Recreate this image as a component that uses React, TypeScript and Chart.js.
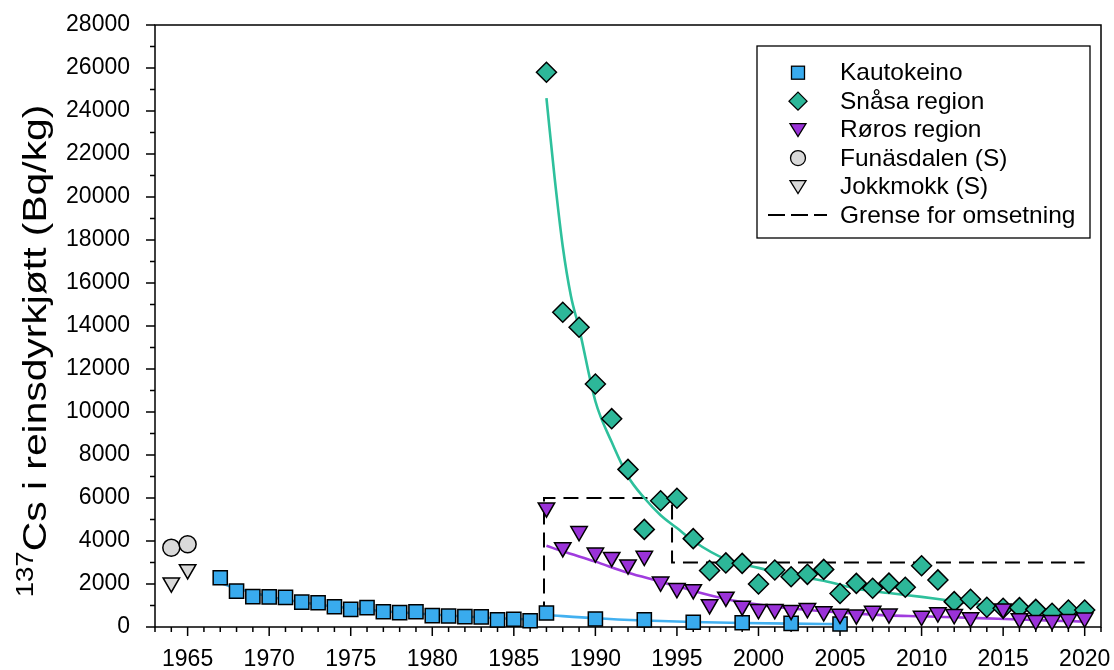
import React, { useEffect, useRef } from 'react';
import { Chart, registerables } from 'chart.js';

Chart.register(...registerables);

// ---------- data ----------
const kautoYears = [1967, 1968, 1969, 1970, 1971, 1972, 1973, 1974, 1975, 1976, 1977, 1978, 1979, 1980, 1981, 1982, 1983, 1984, 1985, 1986, 1987, 1990, 1993, 1996, 1999, 2002, 2005];
const kautoValues = [2290, 1670, 1410, 1400, 1380, 1160, 1130, 940, 820, 900, 710, 670, 710, 530, 510, 480, 470, 330, 360, 290, 650, 370, 330, 220, 200, 170, 140];

const snasaYears = [1987, 1988, 1989, 1990, 1991, 1992, 1993, 1994, 1995, 1996, 1997, 1998, 1999, 2000, 2001, 2002, 2003, 2004, 2005, 2006, 2007, 2008, 2009, 2010, 2011, 2012, 2013, 2014, 2015, 2016, 2017, 2018, 2019, 2020];
const snasaValues = [25800, 14640, 13940, 11300, 9690, 7330, 4540, 5870, 5990, 4110, 2630, 2980, 2960, 2000, 2650, 2340, 2450, 2680, 1560, 2030, 1800, 2040, 1850, 2850, 2190, 1180, 1290, 920, 870, 900, 820, 640, 790, 790];

const rorosYears = [1987, 1988, 1989, 1990, 1991, 1992, 1993, 1994, 1995, 1996, 1997, 1998, 1999, 2000, 2001, 2002, 2003, 2004, 2005, 2006, 2007, 2008, 2010, 2011, 2012, 2013, 2015, 2016, 2017, 2018, 2019, 2020];
const rorosValues = [5550, 3700, 4450, 3450, 3250, 2900, 3300, 2100, 1800, 1750, 1050, 1400, 980, 820, 820, 780, 870, 720, 600, 570, 740, 620, 510, 670, 590, 440, 850, 400, 310, 310, 360, 430];

const funasYears = [1964, 1965];
const funasValues = [3690, 3850];

const jokkYears = [1964, 1965];
const jokkValues = [2060, 2680];

// fitted curves
const kautoFitPreYears = [1967, 1968, 1970, 1972, 1974, 1976, 1978, 1980, 1982, 1984, 1986];
const kautoFitPreValues = [2050, 1800, 1420, 1150, 950, 800, 680, 580, 490, 410, 350];
const kautoFitPostYears = [1987, 1990, 1993, 1996, 1999, 2002, 2005];
const kautoFitPostValues = [560, 405, 300, 230, 185, 155, 135];

const snasaFitYears = [1987, 1987.5, 1988, 1988.5, 1989, 1990, 1991, 1992, 1993, 1994, 1995, 1996, 1998, 2000, 2002, 2004, 2006, 2008, 2010, 2012, 2014, 2016, 2018, 2020];
const snasaFitValues = [24600, 20900, 17700, 15400, 13900, 10500, 8600, 7000, 6000, 5200, 4600, 4000, 3150, 2750, 2400, 2150, 1780, 1580, 1400, 1200, 1020, 900, 790, 710];

const rorosFitYears = [1987, 1988, 1990, 1992, 1994, 1996, 1998, 2000, 2002, 2004, 2006, 2008, 2010, 2012, 2014, 2016, 2018, 2020];
const rorosFitValues = [3780, 3520, 3040, 2520, 2110, 1680, 1300, 1040, 860, 730, 620, 540, 500, 450, 400, 350, 295, 250];

const limitYears = [1986.7, 1986.85, 1986.85, 1994.7, 1994.7, 2020];
const limitValues = [600, 600, 6000, 6000, 3000, 3000];

const xTickLabels = [1965, 1970, 1975, 1980, 1985, 1990, 1995, 2000, 2005, 2010, 2015, 2020];
const legendLabels = ['Kautokeino', 'Snåsa region', 'Røros region', 'Funäsdalen (S)', 'Jokkmokk (S)', 'Grense for omsetning'];
const yTitleSup = '137';
const yTitleMain = 'Cs i reinsdyrkjøtt (Bq/kg)';

// ---------- style ----------
const FONT = "'Liberation Sans', Arial, sans-serif";
const C_BLUE = '#39abee';
const C_TEAL = '#2db799';
const C_PURPLE = '#9a32d8';
const C_GRAY = '#d9d9d9';
const L_BLUE = '#42b0f0';
const L_TEAL = '#2ec09c';
const L_PURPLE = '#a03cde';

const pts = (xs: number[], ys: number[]) => xs.map((x, i) => ({ x, y: ys[i] }));

const overlayPlugin = {
  id: 'overlay',
  beforeDatasetsDraw(chart: any) {
    const { ctx, chartArea: a, scales } = chart;
    const xs = scales.x;
    const ys = scales.y;
    ctx.save();
    ctx.strokeStyle = '#000';
    ctx.lineWidth = 1.5;
    ctx.strokeRect(a.left, a.top, a.right - a.left, a.bottom - a.top);
    ctx.beginPath();
    for (let yr = 1963; yr <= 2021; yr++) {
      const px = xs.getPixelForValue(yr);
      const len = yr % 5 === 0 ? 9 : 5;
      ctx.moveTo(px, a.bottom);
      ctx.lineTo(px, a.bottom + len);
    }
    for (let v = 0; v <= 28000; v += 1000) {
      const py = ys.getPixelForValue(v);
      const len = v % 2000 === 0 ? 9 : 5;
      ctx.moveTo(a.left, py);
      ctx.lineTo(a.left - len, py);
    }
    ctx.stroke();
    ctx.restore();
  },
  afterDraw(chart: any) {
    const { ctx } = chart;
    ctx.save();
    // ---- legend ----
    const bx = 757, by = 46, bw = 333, bh = 192;
    ctx.fillStyle = '#fff';
    ctx.fillRect(bx, by, bw, bh);
    ctx.strokeStyle = '#000';
    ctx.lineWidth = 1.3;
    ctx.strokeRect(bx, by, bw, bh);
    const mx = 798;
    const tx = 840;
    const y0 = 72.7;
    const step = 28.46;
    const rows = legendLabels.map((_, i) => y0 + i * step);
    ctx.fillStyle = C_BLUE;
    ctx.fillRect(mx - 6.5, rows[0] - 6.5, 13, 13);
    ctx.strokeRect(mx - 6.5, rows[0] - 6.5, 13, 13);
    ctx.beginPath();
    ctx.moveTo(mx - 9, rows[1]);
    ctx.lineTo(mx, rows[1] - 9);
    ctx.lineTo(mx + 9, rows[1]);
    ctx.lineTo(mx, rows[1] + 9);
    ctx.closePath();
    ctx.fillStyle = C_TEAL;
    ctx.fill();
    ctx.stroke();
    const tri = (cy: number, fill: string) => {
      ctx.beginPath();
      ctx.moveTo(mx - 8, cy - 6);
      ctx.lineTo(mx + 8, cy - 6);
      ctx.lineTo(mx, cy + 7);
      ctx.closePath();
      ctx.fillStyle = fill;
      ctx.fill();
      ctx.stroke();
    };
    tri(rows[2], C_PURPLE);
    ctx.beginPath();
    ctx.arc(mx, rows[3], 7.5, 0, Math.PI * 2);
    ctx.fillStyle = C_GRAY;
    ctx.fill();
    ctx.stroke();
    tri(rows[4], C_GRAY);
    ctx.beginPath();
    ctx.setLineDash([17, 6]);
    ctx.lineWidth = 2;
    ctx.moveTo(768, rows[5]);
    ctx.lineTo(827, rows[5]);
    ctx.stroke();
    ctx.setLineDash([]);
    ctx.fillStyle = '#000';
    ctx.font = `24px ${FONT}`;
    ctx.textBaseline = 'middle';
    ctx.textAlign = 'left';
    legendLabels.forEach((t, i) => {
      ctx.save();
      ctx.translate(tx, rows[i] + 1);
      ctx.scale(1.02, 1);
      ctx.fillText(t, 0, 0);
      ctx.restore();
    });

    // ---- y axis title ----
    const stretch = 1.2;
    ctx.translate(46, 351);
    ctx.rotate(-Math.PI / 2);
    ctx.scale(stretch, 1);
    ctx.textBaseline = 'alphabetic';
    ctx.font = `23px ${FONT}`;
    const wSup = ctx.measureText(yTitleSup).width;
    ctx.font = `34px ${FONT}`;
    const wMain = ctx.measureText(yTitleMain).width;
    const x0 = -(wSup + wMain) / 2;
    ctx.font = `23px ${FONT}`;
    ctx.fillText(yTitleSup, x0, -13);
    ctx.font = `34px ${FONT}`;
    ctx.fillText(yTitleMain, x0 + wSup, 0);
    ctx.restore();
  },
};

export default function App() {
  const ref = useRef<HTMLCanvasElement | null>(null);
  useEffect(() => {
    if (!ref.current) return;
    const markerBase = { showLine: false, borderColor: '#000', pointBorderWidth: 1.5, clip: false as any };
    const fitBase = { showLine: true, pointRadius: 0, borderWidth: 2.6, cubicInterpolationMode: 'monotone' as const, clip: false as any };
    const chart = new Chart(ref.current, {
      type: 'scatter',
      data: {
        datasets: [
          { ...markerBase, label: 'Røros region', data: pts(rorosYears, rorosValues), pointStyle: 'triangle', rotation: 180, pointRadius: 9.5, backgroundColor: C_PURPLE, order: 1 },
          { ...markerBase, label: 'Snåsa region', data: pts(snasaYears, snasaValues), pointStyle: 'rectRot', pointRadius: 10, backgroundColor: C_TEAL, order: 2 },
          { ...markerBase, label: 'Kautokeino', data: pts(kautoYears, kautoValues), pointStyle: 'rect', pointRadius: 10, backgroundColor: C_BLUE, order: 3 },
          { ...markerBase, label: 'Funäsdalen (S)', data: pts(funasYears, funasValues), pointStyle: 'circle', pointRadius: 8.5, backgroundColor: C_GRAY, order: 4 },
          { ...markerBase, label: 'Jokkmokk (S)', data: pts(jokkYears, jokkValues), pointStyle: 'triangle', rotation: 180, pointRadius: 9.5, backgroundColor: C_GRAY, order: 5 },
          { ...fitBase, label: 'fit Røros', data: pts(rorosFitYears, rorosFitValues), borderColor: L_PURPLE, order: 6 },
          { ...fitBase, label: 'fit Snåsa', data: pts(snasaFitYears, snasaFitValues), borderColor: L_TEAL, order: 7 },
          { ...fitBase, label: 'fit Kautokeino 1', data: pts(kautoFitPreYears, kautoFitPreValues), borderColor: L_BLUE, order: 8 },
          { ...fitBase, label: 'fit Kautokeino 2', data: pts(kautoFitPostYears, kautoFitPostValues), borderColor: L_BLUE, order: 9 },
          { showLine: true, pointRadius: 0, borderWidth: 2, borderColor: '#000', borderDash: [15, 8], tension: 0, label: 'Grense for omsetning', data: pts(limitYears, limitValues), order: 10, clip: false as any },
        ] as any,
      },
      options: {
        animation: false,
        responsive: false,
        devicePixelRatio: 1,
        layout: { padding: { left: 0, top: 25, right: 13, bottom: 0 } },
        plugins: { legend: { display: false }, tooltip: { enabled: false } },
        scales: {
          x: {
            type: 'linear',
            min: 1963,
            max: 2021,
            afterFit: (s: any) => { s.height = 43; s.paddingLeft = 0; s.paddingRight = 0; },
            grid: { display: false, drawTicks: false },
            border: { display: false },
            ticks: {
              stepSize: 1,
              autoSkip: false,
              maxRotation: 0,
              minRotation: 0,
              padding: 19,
              color: '#000',
              font: { family: FONT, size: 23 },
              callback: (v: any) => (xTickLabels.includes(Number(v)) ? String(v) : ''),
            },
          },
          y: {
            type: 'linear',
            min: 0,
            max: 28000,
            afterFit: (s: any) => { s.width = 155; s.paddingTop = 0; s.paddingBottom = 0; },
            grid: { display: false, drawTicks: false },
            border: { display: false },
            ticks: {
              stepSize: 2000,
              padding: 25,
              color: '#000',
              font: { family: FONT, size: 23 },
              callback: (v: any) => String(v),
            },
          },
        },
      } as any,
      plugins: [overlayPlugin],
    });
    return () => chart.destroy();
  }, []);
  return (
    <div style={{ position: 'fixed', left: 0, top: 0, width: 1114, height: 670, background: '#fff' }}>
      <canvas ref={ref} width={1114} height={670} style={{ display: 'block', width: 1114, height: 670 }} />
    </div>
  );
}
